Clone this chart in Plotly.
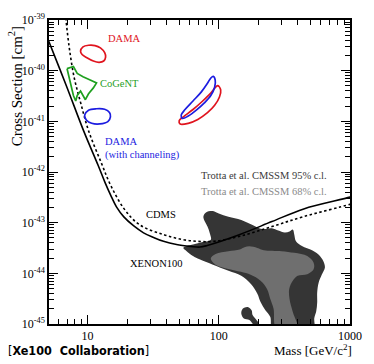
import plotly.graph_objects as go

# ---------------- data (mass in GeV/c^2, cross section in cm^2) ----------------
xenon_mass = [4.8, 5.08, 6.9, 9.35, 12.05, 13.57, 14.99, 16.6, 18.9, 22.5, 26.7, 31.9, 37.9, 47.6, 61.4, 72.0, 81.7, 145, 254, 444, 1000, 1100]
xenon_xsec = [5.3e-40, 3.7e-40, 5.0e-41, 6.4e-42, 1.34e-42, 6.25e-43, 3.5e-43, 2.05e-43, 1.3e-43, 8.6e-44, 6.3e-44, 5.1e-44, 4.28e-44, 3.7e-44, 3.4e-44, 3.3e-44, 3.55e-44, 5.85e-44, 1.05e-43, 1.87e-43, 3.2e-43, 3.5e-43]

cdms_mass = [6.78, 6.85, 7.25, 7.89, 8.89, 10.2, 12.7, 15.0, 19.0, 24.9, 37.5, 52.6, 68.9, 91.8, 145, 254, 444, 1000, 1100]
cdms_xsec = [1.37e-39, 1.0e-39, 2.86e-40, 7.48e-41, 2.24e-41, 6.4e-42, 1.53e-42, 5.47e-43, 1.87e-43, 9.1e-44, 5.85e-44, 4.67e-44, 4.28e-44, 4.28e-44, 5.4e-44, 8.4e-44, 1.32e-43, 2.3e-43, 2.5e-43]

dama_low_mass = [8.84, 9.23, 10.17, 11.39, 12.53, 13.5, 13.72, 13.27, 12.25, 11.07, 9.88, 9.08]
dama_low_xsec = [2.42e-40, 2.95e-40, 3.17e-40, 3.13e-40, 2.82e-40, 2.26e-40, 1.85e-40, 1.55e-40, 1.46e-40, 1.55e-40, 1.80e-40, 2.09e-40]

dama_high_mass = [98.3, 103.4, 101.2, 93.0, 82.0, 69.2, 58.5, 50.8, 49.9, 53.7, 63.6, 75.4, 86.9, 94.6]
dama_high_xsec = [5.07e-41, 4.18e-41, 3.02e-41, 2.07e-41, 1.48e-41, 1.09e-41, 9.14e-42, 8.87e-42, 1.03e-41, 1.23e-41, 1.71e-41, 2.52e-41, 3.61e-41, 4.72e-41]

damach_low_mass = [9.50, 10.17, 11.70, 13.5, 14.69, 14.94, 14.27, 12.40, 10.75, 9.78]
damach_low_xsec = [1.32e-41, 1.66e-41, 1.77e-41, 1.73e-41, 1.50e-41, 1.23e-41, 9.87e-42, 8.87e-42, 9.14e-42, 1.06e-41]

damach_high_mass = [90.8, 93.9, 93.0, 86.9, 77.6, 67.4, 58.5, 52.8, 51.7, 55.3, 63.6, 73.4, 82.0, 86.9]
damach_high_xsec = [7.72e-41, 6.54e-41, 4.72e-41, 3.24e-41, 2.31e-41, 1.66e-41, 1.27e-41, 1.14e-41, 1.32e-41, 1.71e-41, 2.52e-41, 3.77e-41, 5.64e-41, 7.15e-41]

cogent_mass = [6.97, 7.80, 8.34, 9.23, 10.47, 11.70, 11.07, 10.17, 9.62, 9.19, 8.84, 8.34, 8.12, 7.80, 7.46, 7.13]
cogent_xsec = [1.10e-40, 1.21e-40, 8.83e-41, 7.58e-41, 6.54e-41, 5.72e-41, 4.57e-41, 3.50e-41, 2.67e-41, 3.24e-41, 3.95e-41, 3.24e-41, 2.52e-41, 3.24e-41, 5.07e-41, 7.93e-41]

cmssm95_mass = [53.7, 63.6, 75.4, 86.9, 85.4, 82.0, 76.3, 79.9, 89.3, 100, 118.5, 148.4, 180.9, 214.2, 253.8, 284.3, 317.8, 345.9, 366.4, 376.4, 387.4, 434.0, 499.4, 575.0, 625.6, 643.9, 609.0, 576.8, 562.3, 562.3, 552.9, 534.6, 525.6, 258.2, 246.6, 226.5, 208.1, 196.8, 175.8, 148.4, 118.5, 89.3, 71.3, 63.6, 56.9]
cmssm95_xsec = [3.17e-44, 3.69e-44, 4.14e-44, 4.61e-44, 6.20e-44, 8.36e-44, 1.31e-43, 1.585e-43, 1.69e-43, 1.52e-43, 1.31e-43, 1.13e-43, 9.02e-44, 7.48e-44, 7.75e-44, 7.0e-44, 6.40e-44, 6.69e-44, 7.31e-44, 5.77e-44, 4.28e-44, 3.42e-44, 2.95e-44, 2.36e-44, 1.75e-44, 1.30e-44, 9.35e-45, 6.54e-45, 4.18e-45, 2.67e-45, 1.79e-45, 1.31e-45, 7.64e-46, 7.64e-46, 1.39e-45, 1.87e-45, 2.71e-45, 3.95e-45, 6.17e-45, 8.94e-45, 1.12e-44, 1.50e-44, 1.89e-44, 2.19e-44, 2.74e-44]

cmssm68_mass = [86.9, 94.6, 118.5, 144.4, 157.1, 171.1, 196.8, 220.5, 300.6, 376.4, 472.4, 528.2, 528.2, 472.4, 398.9, 366.4, 344.2, 345.9, 366.4, 398.9, 276.2, 261.2, 246.6, 233.1, 208.1, 174.9, 147.6, 118.5, 95.1]
cmssm68_xsec = [1.97e-44, 2.42e-44, 2.74e-44, 2.95e-44, 3.27e-44, 3.42e-44, 3.17e-44, 2.86e-44, 2.74e-44, 2.54e-44, 2.19e-44, 1.62e-44, 1.21e-44, 9.64e-45, 8.94e-45, 7.15e-45, 4.93e-45, 3.16e-45, 1.73e-45, 7.64e-46, 7.64e-46, 2.02e-45, 3.16e-45, 4.93e-45, 7.15e-45, 9.35e-45, 1.07e-44, 1.22e-44, 1.46e-44]

blob_mass = [148.4, 152.7, 166.2, 177.8, 180.9, 191.2, 202.6, 186.2, 171.1, 155.3]
blob_xsec = [1.61e-45, 2.02e-45, 2.17e-45, 1.87e-45, 1.50e-45, 1.25e-45, 9.87e-46, 9.57e-46, 1.20e-45, 1.29e-45]

x_tick_vals = [10, 100, 1000]
x_tick_text = ["10", "100", "1000"]
y_tick_vals = [1e-45, 1e-44, 1e-43, 1e-42, 1e-41, 1e-40, 1e-39]
y_tick_text = ["10<sup>-45</sup>", "10<sup>-44</sup>", "10<sup>-43</sup>", "10<sup>-42</sup>",
               "10<sup>-41</sup>", "10<sup>-40</sup>", "10<sup>-39</sup>"]

# ---------------- figure ----------------
SERIF = "Liberation Serif, Times New Roman, serif"
RED, GREEN, BLUE = "#e0141e", "#1fa01f", "#1c1ce0"

def closed(a):
    return list(a) + [a[0]]

fig = go.Figure()

fig.add_trace(go.Scatter(x=closed(cmssm95_mass), y=closed(cmssm95_xsec), fill="toself",
                         fillcolor="#353535", line=dict(width=0, color="#353535"),
                         mode="lines", line_shape="spline", hoverinfo="skip"))
fig.add_trace(go.Scatter(x=closed(blob_mass), y=closed(blob_xsec), fill="toself",
                         fillcolor="#353535", line=dict(width=0, color="#353535"),
                         mode="lines", line_shape="spline", hoverinfo="skip"))
fig.add_trace(go.Scatter(x=closed(cmssm68_mass), y=closed(cmssm68_xsec), fill="toself",
                         fillcolor="#6f6f6f", line=dict(width=0, color="#6f6f6f"),
                         mode="lines", line_shape="spline", hoverinfo="skip"))

fig.add_trace(go.Scatter(x=cdms_mass, y=cdms_xsec, mode="lines", line_shape="spline",
                         line=dict(color="black", width=1.6, dash="2.5px,2.5px")))
fig.add_trace(go.Scatter(x=xenon_mass, y=xenon_xsec, mode="lines", line_shape="spline",
                         line=dict(color="black", width=1.6)))

for mx, sy, col, shp in [
    (dama_low_mass, dama_low_xsec, RED, "spline"),
    (dama_high_mass, dama_high_xsec, RED, "spline"),
    (damach_low_mass, damach_low_xsec, BLUE, "spline"),
    (damach_high_mass, damach_high_xsec, BLUE, "spline"),
    (cogent_mass, cogent_xsec, GREEN, "linear"),
]:
    fig.add_trace(go.Scatter(x=closed(mx), y=closed(sy), mode="lines", line_shape=shp,
                             line=dict(color=col, width=1.7)))

L, R, T, B = 49, 361, 15, 324
W, H = R - L, B - T

def px(x):
    return (x - L) / W

def py(y):
    return (B - y) / H

def note(text, x, y, size=10, color="black", xanchor="left", family=SERIF, angle=0):
    fig.add_annotation(text=text, xref="paper", yref="paper", x=px(x), y=py(y),
                       xanchor=xanchor, yanchor="middle", showarrow=False,
                       textangle=angle, borderpad=0,
                       font=dict(family=family, size=size, color=color))

note("DAMA", 109, 34, 10.5, RED)
note("CoGeNT", 101, 80, 10.5, GREEN)
note("DAMA", 106, 138, 10.5, BLUE)
note("(with channeling)", 106, 152, 10.5, BLUE)
note("Trotta et al. CMSSM 95% c.l.", 338, 173, 10.5, "#3a3a3a", "right")
note("Trotta et al. CMSSM 68% c.l.", 338, 189, 10.5, "#8a8a8a", "right")
note("CDMS", 149, 213, 10.5)
note("XENON100", 132, 262, 10.5)
note("Mass [GeV/c<sup>2</sup>]", 364, 350, 13, "black", "right")
note("[<b>Xe100  Collaboration</b>]", 5, 351, 12.5, "black", "left",
     family="DejaVu Sans Condensed, DejaVu Sans, sans-serif")
note("Cross Section [cm<sup>2</sup>]", 14, 82, 15, "black", "center", angle=-90)

minor_x = [6, 7, 8, 9, 20, 30, 40, 50, 60, 70, 80, 90, 200, 300, 400, 500, 600, 700, 800, 900]
minor_y = [k * 10.0 ** e for e in range(-45, -39) for k in range(2, 10)]

fig.update_xaxes(type="log", range=[0.706, 3], tickmode="array", tickvals=x_tick_vals,
                 ticktext=x_tick_text, ticks="inside", ticklen=9, tickwidth=1, tickcolor="black",
                 showline=True, linecolor="black", linewidth=1.5, mirror="allticks",
                 showgrid=False, zeroline=False,
                 tickfont=dict(family=SERIF, size=12, color="black"),
                 minor=dict(tickmode="array", tickvals=minor_x, ticks="inside", ticklen=5,
                            tickwidth=1, tickcolor="black", showgrid=False))
fig.update_yaxes(type="log", range=[-45, -39], tickmode="array", tickvals=y_tick_vals,
                 ticktext=y_tick_text, ticks="inside", ticklen=9, tickwidth=1, tickcolor="black",
                 showline=True, linecolor="black", linewidth=1.5, mirror="allticks",
                 showgrid=False, zeroline=False,
                 tickfont=dict(family=SERIF, size=12, color="black"),
                 minor=dict(tickmode="array", tickvals=minor_y, ticks="inside", ticklen=5,
                            tickwidth=1, tickcolor="black", showgrid=False))

fig.update_layout(width=374, height=364, margin=dict(l=L, r=374 - R, t=T, b=364 - B),
                  paper_bgcolor="white", plot_bgcolor="white", showlegend=False,
                  font=dict(family=SERIF))

fig.write_html("out.html")
